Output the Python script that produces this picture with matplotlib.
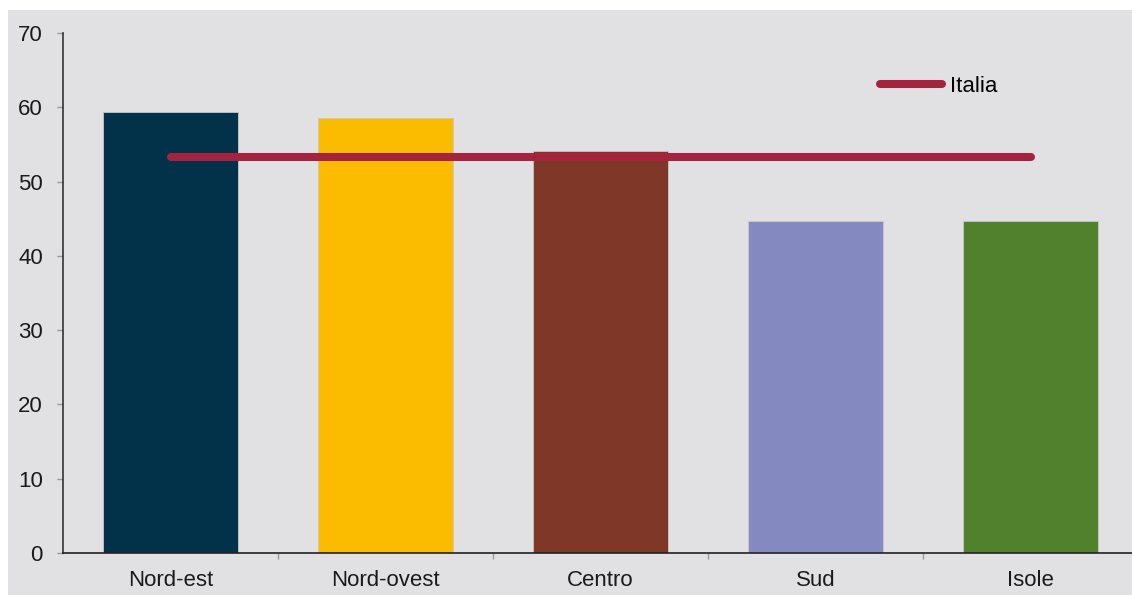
import matplotlib.pyplot as plt
from matplotlib.patches import Rectangle

# dati
regioni = ["Nord-est", "Nord-ovest", "Centro", "Sud", "Isole"]
valori = [59.4, 58.6, 54.1, 44.7, 44.7]
italia = [53.3, 53.3, 53.3, 53.3, 53.3]
colori = ["#02314a", "#fbbc00", "#7f3727", "#8489bf", "#52812e"]
y_ticks = [0, 10, 20, 30, 40, 50, 60, 70]

plt.rcParams["font.family"] = ["Liberation Sans", "DejaVu Sans"]

fig = plt.figure(figsize=(11.32, 5.95), dpi=100, facecolor="white")
# sfondo grigio
fig.patches.append(Rectangle((8 / 1132, 0), 1, 1 - 10 / 595,
                             transform=fig.transFigure, facecolor="#e1e1e3",
                             edgecolor="none", zorder=-10))

ax = fig.add_axes([63 / 1132, 42 / 595, 1075 / 1132, 520 / 595])
ax.set_facecolor("none")

x = range(len(regioni))
ax.bar(x, valori, width=0.63, color=colori, edgecolor="#c8c8c8",
       linewidth=0.6, zorder=2)
ax.plot(x, italia, color="#a4243f", linewidth=5.8, solid_capstyle="round",
        label="Italia", zorder=3)

ax.set_xlim(-0.5, 4.5)
ax.set_ylim(0, 70)
ax.set_yticks(y_ticks)
ax.set_xticks(list(x))
ax.set_xticklabels(regioni)
ax.set_xticks([0.5, 1.5, 2.5, 3.5], minor=True)

for s in ["top", "right"]:
    ax.spines[s].set_visible(False)
ax.spines["left"].set_color("#333333")
ax.spines["bottom"].set_color("#222222")
ax.spines["left"].set_linewidth(1.2)
ax.spines["bottom"].set_linewidth(1.2)

ax.tick_params(axis="y", direction="out", length=4.5, width=1, color="#999999",
               pad=10, labelsize=16, labelcolor="#1a1a1a")
ax.tick_params(axis="x", which="major", length=0, pad=12,
               labelsize=16, labelcolor="#1a1a1a")
ax.tick_params(axis="x", which="minor", direction="out", length=4,
               width=1, color="#999999")

leg = ax.legend(loc="upper left", bbox_to_anchor=(880 / 1132, 1 - 76 / 595),
                bbox_transform=fig.transFigure, frameon=False, fontsize=16,
                handlelength=2.8, handletextpad=0.35, borderpad=0,
                borderaxespad=0)
for line in leg.get_lines():
    line.set_solid_capstyle("round")

fig.savefig("out.png", dpi=100, facecolor=fig.get_facecolor())
